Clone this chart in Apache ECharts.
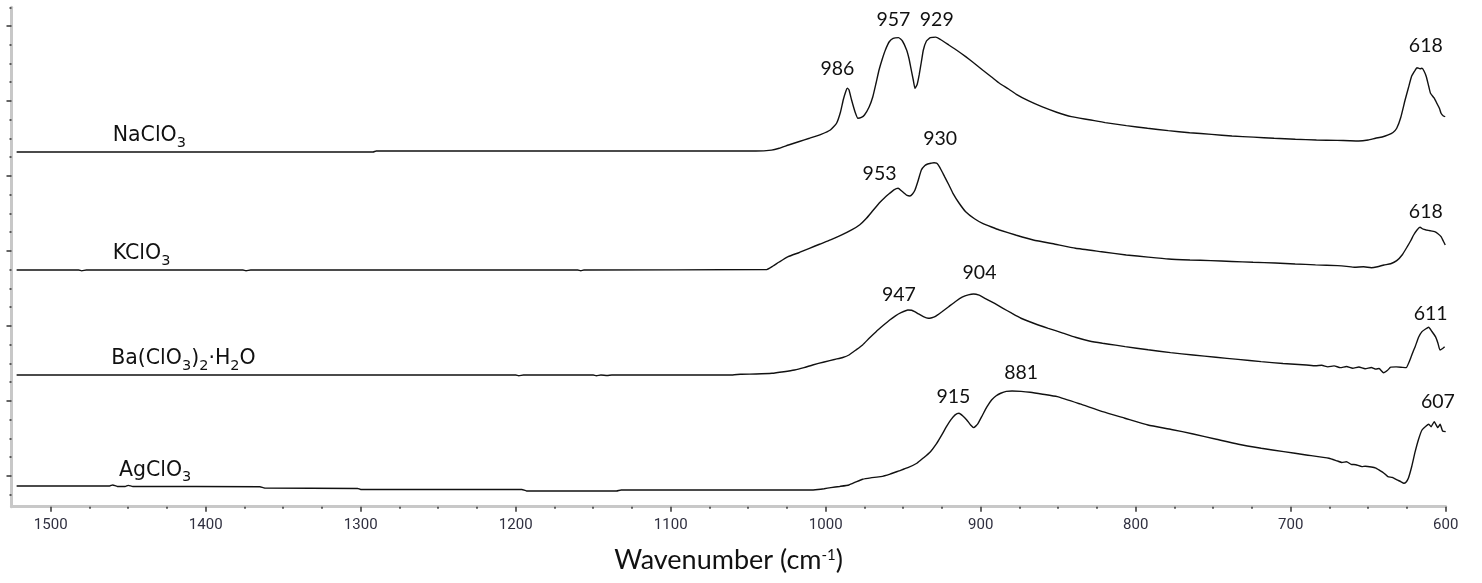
<!DOCTYPE html>
<html><head><meta charset="utf-8">
<script src="https://cdn.jsdelivr.net/npm/echarts@6/dist/echarts.min.js"></script>
<style>html,body{margin:0;padding:0;background:#fff}#c{width:1482px;height:583px}</style>
</head><body><div id="c"></div>
<script>
// ---- data: [wavenumber (cm-1), intensity (arb. units, stacked)] ----
const naClO3 = [[1522,4.32],[1292,4.32],[1290,4.333],[1045,4.333],[1035,4.345],[1030,4.37],[1024,4.413],[1017,4.46],[1010.5,4.503],[1003,4.555],[997,4.613],[993,4.703],[990.5,4.85],[988.7,5.013],[987,5.13],[986,5.169],[985,5.15],[983.3,5.013],[981,4.85],[979.2,4.769],[977,4.78],[975,4.813],[972,4.92],[969.6,5.057],[967.5,5.24],[965.6,5.413],[963.5,5.56],[961.5,5.68],[959,5.79],[956.5,5.836],[953,5.845],[950.5,5.80],[947.8,5.68],[946.2,5.56],[945.1,5.444],[943.5,5.28],[942.4,5.169],[941,5.22],[939.7,5.347],[938.3,5.52],[937,5.68],[935,5.80],[932.5,5.845],[929,5.852],[926,5.82],[920.6,5.747],[915,5.67],[909.7,5.591],[904,5.50],[898.8,5.413],[893,5.32],[887.9,5.236],[882,5.16],[877,5.089],[869,5.00],[860.6,4.924],[851,4.85],[841.5,4.791],[830,4.75],[819.7,4.711],[806,4.672],[792.4,4.636],[779,4.605],[765.2,4.577],[751,4.555],[737.9,4.533],[724,4.518],[710.7,4.503],[697,4.49],[683.4,4.48],[670,4.475],[662,4.47],[656.2,4.467],[650,4.48],[645.3,4.503],[641,4.52],[637.1,4.547],[634,4.58],[631.6,4.636],[629,4.78],[626.2,5.013],[624,5.18],[622.1,5.324],[620,5.40],[618.5,5.444],[616.5,5.43],[615.3,5.436],[614,5.40],[612.5,5.324],[611,5.2],[609.8,5.103],[607.5,5.04],[605.7,4.969],[604,4.9],[603,4.836],[601.5,4.80],[600.3,4.791]];
const kClO3 = [[1522,2.747],[1482,2.747],[1480,2.735],[1477,2.747],[1376,2.747],[1374,2.737],[1371,2.747],[1160,2.747],[1158,2.737],[1156,2.747],[1038,2.753],[1034,2.8],[1030,2.853],[1024.2,2.924],[1017,2.98],[1010.5,3.036],[1004,3.09],[996.9,3.147],[990,3.21],[983.3,3.28],[978,3.35],[973.7,3.436],[969.5,3.54],[965.6,3.636],[962,3.71],[958.7,3.769],[956,3.815],[953.3,3.836],[951,3.80],[949.2,3.769],[947.5,3.74],[945.7,3.733],[944,3.76],[942.4,3.813],[940.5,3.93],[938.3,4.08],[936,4.14],[934.2,4.16],[932,4.17],[930.1,4.177],[928.5,4.17],[927.4,4.147],[925.5,4.08],[923.3,3.991],[920.5,3.88],[917.9,3.769],[914,3.64],[909.7,3.524],[904,3.43],[898.8,3.369],[893,3.32],[887.9,3.28],[877,3.21],[866.1,3.147],[852,3.09],[838.8,3.036],[822,2.99],[806.1,2.947],[792,2.918],[778.8,2.893],[765,2.88],[751.6,2.871],[738,2.86],[724.3,2.849],[710,2.84],[697.1,2.827],[684,2.815],[669.8,2.804],[664,2.795],[658.9,2.783],[653,2.79],[648,2.777],[644,2.79],[639.8,2.813],[635.5,2.83],[631.6,2.871],[628,2.95],[624.8,3.057],[622.5,3.14],[620.7,3.213],[618.5,3.28],[616.6,3.316],[614.5,3.29],[612.5,3.28],[610,3.27],[607.1,3.257],[605,3.23],[603,3.191],[601.5,3.13],[600.3,3.08]];
const baClO3 = [[1522,1.347],[1200,1.347],[1198,1.337],[1195,1.347],[1150,1.347],[1148,1.337],[1145,1.347],[1141,1.34],[1138,1.347],[1060,1.347],[1055,1.356],[1045,1.36],[1034.7,1.369],[1027,1.39],[1020.1,1.413],[1014,1.445],[1008.4,1.48],[1001,1.52],[993.8,1.556],[989,1.58],[985,1.613],[980.5,1.68],[976.2,1.747],[971.8,1.84],[967.5,1.924],[963,2.005],[958.7,2.08],[955,2.135],[951.4,2.177],[947,2.213],[944.5,2.21],[942.6,2.191],[940,2.16],[937,2.125],[933.9,2.103],[931.5,2.11],[929.5,2.124],[925,2.19],[920.7,2.257],[916,2.33],[912,2.383],[908,2.415],[904.6,2.427],[901,2.41],[897.3,2.369],[891,2.30],[885.6,2.236],[880,2.17],[874,2.103],[865,2.03],[856.4,1.969],[847,1.905],[838.9,1.849],[830,1.80],[821.4,1.769],[813,1.745],[806.8,1.724],[792,1.683],[777.5,1.644],[763,1.613],[748.3,1.583],[734,1.554],[719.1,1.524],[705,1.50],[689.9,1.48],[684,1.47],[680,1.476],[676,1.455],[672,1.468],[668,1.444],[664,1.46],[660,1.437],[656,1.452],[652,1.43],[648,1.446],[645,1.425],[643,1.432],[640.1,1.377],[637.5,1.41],[635.5,1.45],[632,1.455],[628,1.448],[625.5,1.444],[623,1.55],[621,1.66],[619.7,1.724],[617.5,1.85],[615.3,1.924],[613,1.96],[611,1.983],[609,1.93],[606.6,1.857],[605,1.77],[603.7,1.68],[602,1.70],[600.7,1.724]];
const agClO3 = [[1522,-0.133],[1462,-0.133],[1460,-0.12],[1457,-0.14],[1452,-0.14],[1450,-0.125],[1447,-0.14],[1365,-0.143],[1362,-0.16],[1302,-0.167],[1300,-0.18],[1196,-0.18],[1193,-0.2],[1135,-0.2],[1132,-0.187],[1010,-0.187],[1005,-0.18],[1001,-0.17],[996.7,-0.156],[991,-0.14],[985,-0.12],[980.5,-0.08],[976.2,-0.044],[971,-0.025],[964.5,-0.009],[958.5,0.025],[952.8,0.067],[947,0.11],[941.2,0.169],[937,0.24],[932.4,0.324],[928.5,0.43],[925.1,0.547],[922,0.66],[919.3,0.747],[916.5,0.815],[914,0.836],[911.5,0.80],[909,0.747],[906.5,0.68],[904.5,0.645],[902,0.69],[898.8,0.813],[896,0.92],[893,1.013],[890,1.07],[887.1,1.103],[883.5,1.128],[879.8,1.133],[874,1.128],[868.1,1.116],[860,1.09],[850.6,1.057],[836,0.96],[821.4,0.857],[807,0.77],[792.1,0.68],[777,0.62],[762.9,0.56],[748,0.49],[733.7,0.423],[719,0.37],[704.5,0.324],[690,0.28],[675.3,0.236],[670,0.2],[667,0.18],[664,0.19],[661,0.155],[658,0.15],[654,0.125],[651.9,0.13],[648,0.12],[645,0.105],[643.1,0.08],[640,0.04],[637.3,-0.009],[634.5,-0.02],[631.4,-0.053],[629,-0.075],[627,-0.097],[625.5,-0.08],[624.1,-0.031],[622,0.12],[619.7,0.324],[617.5,0.49],[615.3,0.613],[613,0.66],[610.9,0.689],[609.4,0.657],[607.4,0.724],[605.1,0.644],[603.6,0.689],[602,0.6],[600,0.591]];

const speciesNames = ['NaClO3', 'KClO3', 'Ba(ClO3)2·H2O', 'AgClO3'];
const naPeaks = [986, 957, 929, 618];
const kPeaks = [953, 930, 618];
const baPeaks = [947, 904, 611];
const agPeaks = [915, 881, 607];

const xMajorTicks = [600, 700, 800, 900, 1000, 1100, 1200, 1300, 1400, 1500];
const xMinorTicks = [625, 650, 675, 725, 750, 775, 825, 850, 875, 925, 950, 975, 1025, 1050, 1075, 1125, 1150, 1175, 1225, 1250, 1275, 1325, 1350, 1375, 1425, 1450, 1475];
const yMajorTicks = [0, 1, 2, 3, 4, 5, 6];
const yMinorTicks = [-0.25, 0.25, 0.5, 0.75, 1.25, 1.5, 1.75, 2.25, 2.5, 2.75, 3.25, 3.5, 3.75, 4.25, 4.5, 4.75, 5.25, 5.5, 5.75, 6.25];

// ---- layout / style (not data) ----
const peakLabelOffsets = [
  [[-10, -2], [1, 0], [1, 1], [8, -4]],
  [[-19, 3], [6, -6], [8, 2]],
  [[-9, 3], [5, -3], [2, 4]],
  [[-4, 1], [11, 0], [3, -2]]
];
const speciesLabelWn = [1460, 1460, 1461, 1456];
const LINE = '#111';

function peakTop(data, wn) {
  let best = -Infinity;
  for (const [x, y] of data) if (Math.abs(x - wn) <= 4 && y > best) best = y;
  return best;
}
function valueAt(data, wn) {
  for (let i = 0; i < data.length - 1; i++) {
    const [x0, y0] = data[i], [x1, y1] = data[i + 1];
    if (wn <= x0 && wn >= x1) return y0 + (y1 - y0) * (x0 - wn) / (x0 - x1);
  }
  return data[0][1];
}
function richName(n) { return n.replace(/(\d+)/g, '{s|$1}'); }

const spectra = [naClO3, kClO3, baClO3, agClO3];
const peaks = [naPeaks, kPeaks, baPeaks, agPeaks];

const series = spectra.map((d, si) => ({
  type: 'line',
  data: d,
  showSymbol: false,
  smooth: 0.15,
  lineStyle: { color: LINE, width: 1.4 },
  silent: true,
  markPoint: {
    symbol: 'circle', symbolSize: 0, silent: true,
    label: { show: true, position: 'top', distance: 8, fontFamily: 'Lato', fontSize: 19.5, color: '#111', formatter: p => String(p.value) },
    data: peaks[si].map((p, i) => ({
      coord: [p, peakTop(d, p)], value: p,
      label: { offset: peakLabelOffsets[si][i] }
    })).concat([{
      coord: [speciesLabelWn[si], valueAt(d, speciesLabelWn[si])], value: speciesNames[si],
      label: {
        position: 'right', distance: 0, offset: [0, -16],
        fontFamily: 'DejaVu Sans', fontSize: 20.5, lineHeight: 24, color: '#111',
        formatter: p => richName(p.value),
        rich: { s: { fontFamily: 'DejaVu Sans', fontSize: 14.5, lineHeight: 14, padding: [14, 0, 0, 0], color: '#111' } }
      }
    }])
  }
}));

const chart = echarts.init(document.getElementById('c'), null, { renderer: 'canvas' });
const yBase = { type: 'value', min: -0.41, max: 6.25, position: 'left', offset: 0, splitLine: { show: false }, axisLabel: { show: false } };
const xBase = { type: 'value', inverse: true, min: 600, max: 1525.3, position: 'bottom', offset: 0, splitLine: { show: false } };
chart.setOption({
  animation: false,
  backgroundColor: '#fff',
  grid: { left: 11.5, right: 36.3, top: 7.25, bottom: 76.3, containLabel: false },
  xAxis: [
    Object.assign({}, xBase, {
      axisLine: { show: true, onZero: false, lineStyle: { color: '#c8c8c8', width: 3 } },
      axisTick: { show: true, customValues: xMajorTicks, length: 5, lineStyle: { color: '#333', width: 1.5 } },
      axisLabel: { show: true, customValues: xMajorTicks, formatter: v => String(v), fontFamily: 'Roboto', fontSize: 15, color: '#2f2f3f', margin: 11 },
      name: 'Wavenumber (cm{sup|-1})', nameLocation: 'middle', nameGap: 40,
      nameTextStyle: { fontFamily: 'Lato', fontSize: 27, color: '#111', rich: { sup: { fontFamily: 'Lato', fontSize: 15, padding: [0, 0, 10, 0], color: '#111' } } }
    }),
    Object.assign({}, xBase, {
      axisLine: { show: false, onZero: false },
      axisTick: { show: true, customValues: xMinorTicks, length: 2, lineStyle: { color: '#333', width: 1.5 } },
      axisLabel: { show: false }
    })
  ],
  yAxis: [
    Object.assign({}, yBase, {
      axisLine: { show: true, onZero: false, lineStyle: { color: '#c8c8c8', width: 3 } },
      axisTick: { show: true, customValues: yMajorTicks, length: 5, lineStyle: { color: '#333', width: 1.5 } }
    }),
    Object.assign({}, yBase, {
      axisLine: { show: false, onZero: false },
      axisTick: { show: true, customValues: yMinorTicks, length: 2, lineStyle: { color: '#333', width: 1.5 } }
    })
  ],
  series: series
});
</script>
</body></html>
